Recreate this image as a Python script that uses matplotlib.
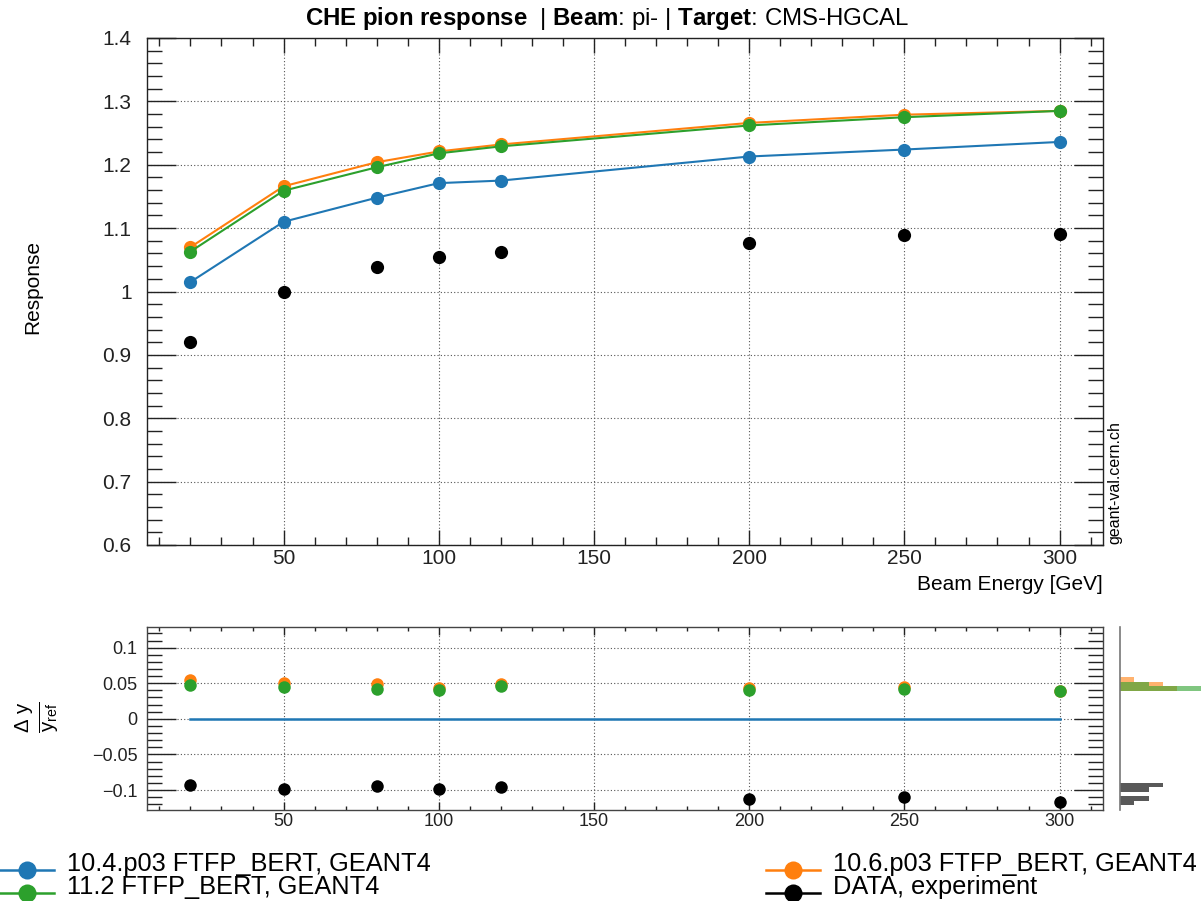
import numpy as np
import matplotlib
matplotlib.use('Agg')
import matplotlib.pyplot as plt
from matplotlib.lines import Line2D
from matplotlib.ticker import MultipleLocator, FuncFormatter

plt.rcParams['font.family'] = ['Liberation Sans', 'DejaVu Sans']
plt.rcParams['mathtext.fontset'] = 'custom'
plt.rcParams['mathtext.rm'] = 'Liberation Sans'
plt.rcParams['mathtext.bf'] = 'Liberation Sans:bold'
plt.rcParams['mathtext.it'] = 'Liberation Sans:italic'
plt.rcParams['mathtext.sf'] = 'Liberation Sans'

# ---------------- data ----------------
energies = [20, 50, 80, 100, 120, 200, 250, 300]
resp_104 = [1.015, 1.110, 1.148, 1.171, 1.175, 1.213, 1.224, 1.236]
resp_106 = [1.070, 1.166, 1.204, 1.221, 1.232, 1.266, 1.279, 1.285]
resp_112 = [1.063, 1.159, 1.196, 1.218, 1.229, 1.262, 1.275, 1.285]
resp_data = [0.921, 1.000, 1.039, 1.055, 1.063, 1.076, 1.089, 1.091]

series_labels = ["10.4.p03 FTFP_BERT, GEANT4", "10.6.p03 FTFP_BERT, GEANT4",
                 "11.2 FTFP_BERT, GEANT4", "DATA, experiment"]
series_colors = ["#1f77b4", "#ff7f0e", "#2ca02c", "#000000"]
series_values = [resp_104, resp_106, resp_112, resp_data]

top_ylim = (0.6, 1.4)
bot_ylim = (-0.128, 0.129)

W, H = 1201, 901
fig = plt.figure(figsize=(W / 100, H / 100), dpi=100)


def px(x0, y0, x1, y1):
    return [x0 / W, 1 - y1 / H, (x1 - x0) / W, (y1 - y0) / H]


ax1 = fig.add_axes(px(147, 38, 1103, 545))
ax2 = fig.add_axes(px(147, 627, 1103, 810))
ax3 = fig.add_axes(px(1120, 627, 1201, 810))

fmt = FuncFormatter(lambda v, p: ('%g' % round(v, 6)).replace('-', '\u2212') if abs(v) > 1e-9 else '0')

# ---------------- top panel ----------------
E = np.array(energies)
for vals, col, lab in zip(series_values, series_colors, series_labels):
    v = np.array(vals)
    if col == "#000000":
        ax1.plot(E, v, ls='none', marker='o', ms=9.5, mew=0, color=col, zorder=5)
    else:
        ax1.plot(E, v, ls='-', lw=1.5, marker='o', ms=9.5, mew=0, color=col, zorder=4)

ax1.set_xlim(6, 314)
ax1.set_ylim(*top_ylim)
ax1.xaxis.set_major_locator(MultipleLocator(50))
ax1.xaxis.set_minor_locator(MultipleLocator(10))
ax1.yaxis.set_major_locator(MultipleLocator(0.1))
ax1.yaxis.set_minor_locator(MultipleLocator(0.02))
ax1.xaxis.set_major_formatter(fmt)
ax1.yaxis.set_major_formatter(fmt)
ax1.grid(True, which='major', ls=(0, (1, 2)), lw=0.8, color='#555555')
ax1.tick_params(which='both', direction='in', top=True, right=True, labelsize=15, colors='#222222')
ax1.tick_params(axis='y', which='major', length=21, width=1, pad=11)
ax1.tick_params(axis='y', which='minor', length=10.5, width=1)
ax1.tick_params(axis='x', which='major', length=11, width=1, pad=3)
ax1.tick_params(axis='x', which='minor', length=5.5, width=1)
for s in ax1.spines.values():
    s.set_linewidth(1)
    s.set_color('#222222')

# ---------------- ratio panel ----------------
ref = np.array(resp_104)
ratios = []
for vals, col in zip(series_values, series_colors):
    r = (np.array(vals) - ref) / ref
    ratios.append(r)
    if col == "#1f77b4":
        ax2.plot(E, r, ls='-', lw=1.8, color=col, zorder=3)
    else:
        ax2.plot(E, r, ls='none', marker='o', ms=9, mew=0, color=col, zorder=5)

ax2.set_xlim(6, 314)
ax2.set_ylim(*bot_ylim)
ax2.xaxis.set_major_locator(MultipleLocator(50))
ax2.xaxis.set_minor_locator(MultipleLocator(10))
ax2.yaxis.set_major_locator(MultipleLocator(0.05))
ax2.yaxis.set_minor_locator(MultipleLocator(0.01))
ax2.xaxis.set_major_formatter(fmt)
ax2.yaxis.set_major_formatter(fmt)
ax2.grid(True, which='major', ls=(0, (1, 2)), lw=0.8, color='#555555')
ax2.tick_params(which='both', direction='in', top=True, right=True, labelsize=13, colors='#222222')
ax2.tick_params(axis='y', which='major', length=21, width=1, pad=7)
ax2.tick_params(axis='y', which='minor', length=10.5, width=1)
ax2.tick_params(axis='x', which='major', length=6, width=1, pad=2)
ax2.tick_params(axis='x', which='minor', length=3, width=1)
for s in ax2.spines.values():
    s.set_linewidth(1)
    s.set_color('#444444')

# ---------------- ratio histograms ----------------
edges = np.linspace(bot_ylim[0], bot_ylim[1], 41)
for r, col in zip(ratios, series_colors):
    if col == "#1f77b4":
        continue
    ax3.hist(r, bins=edges, orientation='horizontal', color=col,
             alpha=0.6 if col != "#000000" else 0.65, histtype='stepfilled', lw=0)
ax3.set_ylim(*bot_ylim)
ax3.set_xlim(0, 81 / 14.3)
ax3.set_xticks([])
ax3.set_yticks([])
for k, s in ax3.spines.items():
    s.set_visible(k == 'left')
ax3.spines['left'].set_color('#777777')
ax3.spines['left'].set_linewidth(1.2)
ax3.patch.set_alpha(0)

# ---------------- texts ----------------
fig.text(607 / W, 1 - 18 / H,
         r"$\mathbf{CHE\ pion\ response}$  | $\mathbf{Beam}$: pi- | $\mathbf{Target}$: CMS-HGCAL",
         ha='center', va='center', fontsize=17.3)
fig.text(33 / W, 1 - 287 / H, "Response", rotation=90, ha='center', va='center', fontsize=15)
fig.text(1103 / W, 1 - 584 / H, "Beam Energy [GeV]", ha='right', va='center', fontsize=15)
fig.text(1115 / W, 1 - 544 / H, "geant-val.cern.ch", rotation=90, ha='center', va='bottom', fontsize=11.5)
fig.text(38 / W, 1 - 717 / H, r"$\frac{\Delta\ \mathrm{y}}{\mathrm{y}_{\mathrm{ref}}}$", rotation=90,
         ha='center', va='center', fontsize=21)

# ---------------- legend (manual, 2 columns) ----------------
leg_pos = {0: (0, 864), 1: (766, 864), 2: (0, 887), 3: (766, 887)}
for i, (lab, col) in enumerate(zip(series_labels, series_colors)):
    x0, y0 = leg_pos[i]
    ym = y0 + 5.5
    fig.add_artist(Line2D([x0 / W, (x0 + 54) / W], [1 - ym / H, 1 - ym / H],
                          transform=fig.transFigure, color=col, lw=1.8))
    fig.add_artist(Line2D([(x0 + 27) / W], [1 - ym / H], transform=fig.transFigure,
                          color=col, marker='o', ms=13, mew=0, ls='none'))
    fig.text((x0 + 67) / W, 1 - y0 / H, lab, ha='left', va='center', fontsize=18.3)

fig.savefig('out.png', dpi=100)
